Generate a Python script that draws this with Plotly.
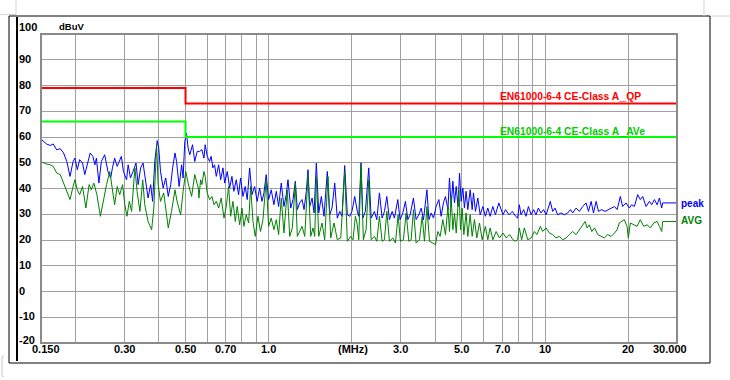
import math
import plotly.graph_objects as go

# ---------------- data ----------------
peak_freq = [0.151,0.157,0.162,0.166,0.171,0.176,0.181,0.186,0.191,0.196,0.199,0.203,0.207,0.212,0.216,0.222,0.226,0.231,0.235,0.238,
             0.243,0.248,0.255,0.262,0.268,0.272,0.277,0.283,0.289,0.293,0.298,0.306,0.310,0.316,0.323,0.331,0.337,0.344,0.351,0.359,
             0.366,0.374,0.380,0.387,0.395,0.400,0.406,0.415,0.424,0.433,0.442,0.449,0.458,0.464,0.474,0.484,0.490,0.497,0.504,0.511,
             0.518,0.530,0.540,0.551,
             0.562,0.573,0.583,0.589,0.599,0.611,0.619,0.628,0.637,0.646,0.659,0.670,0.683,0.693,0.708,0.722,0.736,0.748,0.763,0.778,
             0.791,0.807,0.822,0.836,0.853,0.870,0.889,0.908,0.927,0.945,0.961,0.979,0.999,1.021,1.044,1.065,1.086,1.110,1.135,1.157,
             1.174,1.201,1.224,1.248,1.269,1.294,1.320,1.342,1.368,1.387,1.407,1.435,1.459,1.487,1.517,1.550,1.585,1.629,1.662,1.694,
             1.733,1.770,1.807,1.842,1.883,1.925,1.964,2.000,2.047,2.092,
             2.117,2.158,2.189,2.237,2.301,2.347,2.412,2.461,2.515,2.572,2.622,2.675,2.733,2.796,2.850,2.931,2.987,3.056,3.123,3.186,
             3.248,3.339,3.414,3.492,3.561,3.630,3.735,3.798,3.871,3.945,4.034,4.126,4.205,4.287,4.360,4.449,4.508,4.572,4.637,4.700,
             4.768,4.837,4.902,4.967,5.038,5.105,5.178,5.252,5.356,5.446,5.505,5.597,5.708,5.820,5.954,6.080,6.203,6.324,6.468,6.610,
             6.800,7.040,7.196,7.400,7.610,7.820,
             7.95,8.067,8.18,8.36,8.53,8.70,8.90,9.08,9.27,9.45,9.66,9.87,10.08,10.27,10.44,10.65,10.86,11.10,11.42,11.74,
             12.07,12.35,12.58,12.94,13.30,13.68,14.07,14.35,14.67,14.96,15.30,15.60,16.02,16.47,16.94,17.42,17.82,18.22,18.71,19.07,
             19.62,20.17,20.56,21.03,21.62,22.10,22.54,23.18,23.84,24.30,24.85,25.42,25.91,26.41,26.63,30.0]
peak_dbuv = [58.9,57.3,56.7,57.3,55.0,55.5,53.8,50.5,44.7,50.5,51.8,47.3,51.2,49.9,45.4,50.5,53.8,52.5,49.2,51.8,
             42.1,50.5,53.1,46.6,44.1,48.0,51.8,48.6,51.2,52.5,46.6,43.4,49.2,44.1,46.6,49.9,41.5,48.0,49.9,42.1,
             36.3,41.5,35.0,50.5,58.6,55.7,46.6,40.2,44.1,36.9,41.5,48.0,53.8,50.5,40.8,49.2,44.1,58.3,61.5,55.7,
             53.1,57.0,50.5,54.4,
             54.4,55.1,51.8,57.0,52.5,50.5,52.5,48.0,49.2,44.7,49.2,43.4,48.0,42.1,46.6,40.2,44.7,38.9,43.4,37.6,
             44.1,36.9,40.8,35.7,48.0,37.6,40.8,35.0,40.2,35.0,38.3,45.4,35.7,39.5,33.7,38.9,33.0,42.1,33.0,37.6,
             43.4,32.4,35.7,42.8,31.8,34.4,35.7,31.8,38.9,47.3,33.0,36.3,30.5,49.9,30.5,36.9,29.2,46.6,29.8,32.4,
             42.1,28.5,31.1,29.2,48.9,29.8,29.2,31.1,36.9,31.1,
             29.2,50.0,28.5,31.1,48.0,28.5,31.1,27.9,38.3,28.5,31.1,36.9,27.9,31.1,28.5,35.7,27.9,30.5,35.0,27.9,
             29.8,36.3,27.9,29.8,32.4,27.9,39.5,27.9,30.5,28.5,33.0,35.7,29.2,34.4,36.9,31.8,44.1,33.0,42.8,34.4,
             40.8,33.0,46.0,35.0,40.2,32.4,38.9,31.8,39.5,31.8,38.3,31.1,36.3,29.8,33.0,29.2,32.4,29.2,33.0,29.8,
             34.4,29.8,31.8,29.8,31.1,29.2,
             28.5,33.7,29.8,31.8,29.2,33.0,29.8,31.8,29.8,32.4,30.5,31.8,29.8,32.4,35.0,31.1,32.4,29.8,30.5,29.8,
             30.5,31.8,30.5,32.4,31.1,33.0,34.4,31.1,35.0,30.5,35.0,31.1,31.8,31.1,31.8,32.4,33.0,31.8,36.9,33.0,
             34.4,32.4,33.7,33.0,37.6,35.7,36.9,33.0,35.0,33.7,35.7,33.7,36.3,32.4,34.4,34.4]

avg_freq = [0.151,0.157,0.162,0.166,0.171,0.176,0.178,0.183,0.191,0.196,0.199,0.203,0.207,0.212,0.218,0.224,0.228,0.233,0.239,0.246,
            0.253,0.259,0.266,0.272,0.277,0.283,0.289,0.296,0.3015,0.307,0.313,0.319,0.328,0.334,0.342,0.350,0.356,0.366,0.377,0.384,
            0.393,0.398,0.406,0.417,0.433,0.445,0.458,0.466,0.480,0.490,0.501,0.511,0.526,0.540,0.556,
            0.559,0.567,0.573,0.583,0.589,0.599,0.611,0.623,0.634,0.646,0.659,0.673,0.689,0.702,0.716,0.728,0.742,0.757,0.769,0.785,
            0.800,0.813,0.829,0.846,0.860,0.877,0.894,0.914,0.934,0.953,0.979,0.999,1.021,1.044,1.065,1.086,1.110,1.135,1.167,1.191,
            1.217,1.248,1.269,1.294,1.320,1.350,1.387,1.419,1.446,1.467,1.487,1.517,1.559,1.594,1.638,1.676,1.723,1.770,1.822,1.883,
            1.925,1.980,2.018,2.058,2.087,
            2.117,2.158,2.200,2.250,2.301,2.347,2.412,2.461,2.515,2.572,2.622,2.675,2.733,2.813,2.874,2.939,2.995,3.071,3.141,3.213,
            3.275,3.339,3.414,3.510,3.591,3.660,3.735,3.817,3.927,4.010,4.091,4.170,4.264,4.360,4.449,4.508,4.572,4.637,4.700,4.768,
            4.877,4.943,5.008,5.080,5.178,5.252,5.356,5.446,5.550,5.661,5.787,5.920,6.080,6.203,6.324,6.468,6.650,6.835,7.040,7.237,
            7.440,7.650,7.820,
            7.95,8.067,8.22,8.41,8.65,8.90,9.14,9.34,9.61,9.79,10.08,10.36,10.65,10.95,11.26,11.57,11.91,12.24,12.58,12.94,
            13.30,13.68,13.96,14.19,14.46,14.75,15.09,15.51,15.94,16.38,16.85,17.33,17.82,18.22,18.55,18.91,19.34,19.78,20.0,20.34,
            20.91,21.51,22.10,22.73,23.38,24.04,24.71,25.42,25.91,26.41,26.63,30.0]
avg_dbuv = [50.3,49.5,49.2,48.6,46.0,45.4,44.1,40.8,35.7,40.8,43.4,39.5,37.6,40.8,32.4,41.5,39.5,42.1,37.6,29.2,
            36.3,41.5,46.6,38.9,33.7,40.8,37.6,41.5,33.7,29.2,35.0,31.1,48.0,38.9,31.1,43.4,33.7,27.2,24.0,32.4,
            57.0,41.5,35.0,38.3,24.7,31.1,39.5,35.0,29.8,38.9,46.6,42.1,36.9,45.4,40.2,
            36.3,43.4,41.5,46.6,44.7,38.3,35.7,36.9,33.7,35.0,32.4,36.3,28.5,33.0,40.8,29.2,35.0,27.2,33.0,25.9,
            32.4,25.3,29.8,26.6,40.8,27.2,21.4,29.2,23.3,27.9,43.4,25.3,28.5,24.0,27.9,22.1,36.3,22.7,39.5,21.4,
            24.7,42.1,21.4,23.3,25.3,21.4,45.4,21.4,24.7,21.4,44.7,21.4,26.6,20.1,44.7,20.8,26.6,20.1,20.8,46.6,
            19.5,21.4,20.1,29.2,26.6,
            20.1,49.2,20.1,24.0,43.4,20.1,21.4,19.5,29.2,19.5,20.1,31.1,19.5,20.8,18.8,29.8,19.5,20.1,30.5,19.5,
            20.1,31.8,18.8,20.1,29.2,19.5,33.0,19.5,18.8,18.2,23.3,21.4,27.9,22.1,33.0,23.3,36.9,24.0,30.5,22.7,
            39.5,24.0,32.4,22.1,30.5,21.4,29.8,21.4,27.9,20.8,26.6,20.1,25.3,20.1,24.7,20.1,23.3,20.8,22.7,20.8,
            22.1,20.1,19.5,
            20.1,24.7,20.1,24.7,20.1,20.8,23.3,22.1,25.3,23.3,24.7,22.7,22.1,20.8,21.4,20.1,20.8,22.1,23.3,22.1,
            24.0,25.9,27.2,24.7,25.9,23.3,24.7,22.1,21.4,20.8,22.1,21.4,22.7,24.0,26.6,27.2,27.9,25.3,20.8,26.6,
            25.9,25.3,27.9,25.3,25.9,24.7,26.6,27.2,25.3,23.3,27.2,27.2]

limit_freq = [0.15, 0.5, 30.0]
limit_qp = [79, 73, 73]
limit_av = [66, 60, 60]

y_ticks = [100, 90, 80, 70, 60, 50, 40, 30, 20, 10, 0, -10, -20]
x_label_vals = [0.15, 0.3, 0.5, 0.7, 1.0, 2.0, 3.0, 5.0, 7.0, 10.0, 20.0, 30.0]
x_label_text = ["0.150", "0.30", "0.50", "0.70", "1.0", "(MHz)", "3.0", "5.0", "7.0", "10", "20", "30.000"]
x_grid_vals = [0.2, 0.3, 0.4, 0.5, 0.6, 0.7, 0.8, 0.9, 1, 2, 3, 4, 5, 6, 7, 8, 9, 10, 20]
qp_label = "EN61000-6-4 CE-Class A_QP"
av_label = "EN61000-6-4 CE-Class A_AVe"

# ---------------- layout geometry (pixels) ----------------
W, H = 730, 380
L, R, T, B = 41, 53, 34, 37
PW, PH = W - L - R, H - T - B


def px(x):
    return (x - L) / PW


def py(y):
    return (H - B - y) / PH


def label_html(s):
    # render the underscore a touch larger so it stays visible in bold small text
    return "<b>" + s.replace("_", "<span style='font-size:12.5px'>_</span>") + "</b>"


FONT = "Liberation Sans, Arial, sans-serif"

fig = go.Figure()
fig.add_trace(go.Scatter(x=peak_freq, y=peak_dbuv, mode="lines",
                         line=dict(color="#0000ff", width=1), showlegend=False))
fig.add_trace(go.Scatter(x=avg_freq, y=avg_dbuv, mode="lines",
                         line=dict(color="#008000", width=1), showlegend=False))
fig.add_trace(go.Scatter(x=limit_freq, y=limit_qp, mode="lines", line_shape="hv",
                         line=dict(color="#ff0000", width=2), showlegend=False))
fig.add_trace(go.Scatter(x=limit_freq, y=limit_av, mode="lines", line_shape="hv",
                         line=dict(color="#00ff00", width=2), showlegend=False))

ann = []
for v in y_ticks:
    shift = 7 if v == 100 else (3.5 if v == -20 else 1)
    ann.append(dict(x=px(17), xref="paper", y=v, yref="y", text="<b>%d</b>" % v,
                    xanchor="left", yanchor="middle", showarrow=False, yshift=shift,
                    font=dict(family=FONT, size=11, color="#000000")))
for v, t in zip(x_label_vals, x_label_text):
    xs = 5 if t == "0.150" else (-7 if t == "30.000" else (1 if t == "(MHz)" else 0))
    ann.append(dict(x=math.log10(v), xref="x", y=py(349), yref="paper", text="<b>%s</b>" % t,
                    xanchor="center", yanchor="middle", showarrow=False, xshift=xs,
                    font=dict(family=FONT, size=11, color="#000000")))
ann.append(dict(x=px(71.5), xref="paper", y=py(26), yref="paper", text="<b>dBuV</b>",
                xanchor="center", yanchor="middle", showarrow=False,
                font=dict(family=FONT, size=9.5, color="#000000")))
ann.append(dict(x=math.log10(6.73), xref="x", y=75.9, yref="y", text=label_html(qp_label),
                xanchor="left", yanchor="middle", showarrow=False,
                font=dict(family=FONT, size=10.3, color="#ff0000")))
ann.append(dict(x=math.log10(6.73), xref="x", y=62.5, yref="y", text=label_html(av_label),
                xanchor="left", yanchor="middle", showarrow=False,
                font=dict(family=FONT, size=10.3, color="#00cc00")))
ann.append(dict(x=px(679), xref="paper", y=34.2, yref="y", text="<b>peak</b>",
                xanchor="left", yanchor="middle", showarrow=False,
                font=dict(family=FONT, size=10, color="#0000ff")))
ann.append(dict(x=px(679), xref="paper", y=27.4, yref="y", text="<b>AVG</b>",
                xanchor="left", yanchor="middle", showarrow=False,
                font=dict(family=FONT, size=10, color="#008000")))

shapes = [
    # plot border
    dict(type="rect", xref="paper", yref="paper", x0=0, x1=1, y0=0, y1=1,
         line=dict(color="#8a8a8a", width=2), layer="above"),
    # outer black frame
    dict(type="rect", xref="paper", yref="paper", x0=px(9), x1=px(710), y0=py(363), y1=py(16),
         line=dict(color="#000000", width=1)),
    # thick vertical bar
    dict(type="line", xref="paper", yref="paper", x0=px(17), x1=px(17), y0=py(361), y1=py(17),
         line=dict(color="#000000", width=2)),
    # spreadsheet cell lines
    dict(type="line", xref="paper", yref="paper", x0=px(0), x1=px(16), y0=py(14.5), y1=py(14.5),
         line=dict(color="#d4d4d4", width=1)),
    dict(type="line", xref="paper", yref="paper", x0=px(16), x1=px(16), y0=py(0), y1=py(14.5),
         line=dict(color="#d4d4d4", width=1)),
    dict(type="line", xref="paper", yref="paper", x0=px(704), x1=px(704), y0=py(0), y1=py(16),
         line=dict(color="#d4d4d4", width=1)),
    dict(type="line", xref="paper", yref="paper", x0=px(711), x1=px(730), y0=py(16), y1=py(16),
         line=dict(color="#d4d4d4", width=1)),
    dict(type="path", xref="paper", yref="paper",
         path="M %f %f L %f %f L %f %f L %f %f" % (px(4), py(356), px(2), py(357), px(2), py(376), px(4), py(377)),
         line=dict(color="#c8c8c8", width=1)),
]

fig.update_layout(
    width=W, height=H,
    margin=dict(l=L, r=R, t=T, b=B, pad=0),
    paper_bgcolor="#ffffff", plot_bgcolor="#ffffff",
    showlegend=False,
    annotations=ann, shapes=shapes,
    xaxis=dict(type="log", range=[math.log10(0.15), math.log10(30)], tickvals=x_grid_vals,
               showticklabels=False, ticks="", showgrid=True, gridcolor="#a0a0a0", gridwidth=1,
               zeroline=False, showline=False, fixedrange=True),
    yaxis=dict(range=[-20, 100], tickvals=y_ticks, showticklabels=False, ticks="",
               showgrid=True, gridcolor="#a0a0a0", gridwidth=1, zeroline=False, showline=False,
               fixedrange=True),
)

fig.write_html("out.html", config={"displayModeBar": False},
               post_script="document.body.style.margin='0px';document.body.style.overflow='hidden';")
